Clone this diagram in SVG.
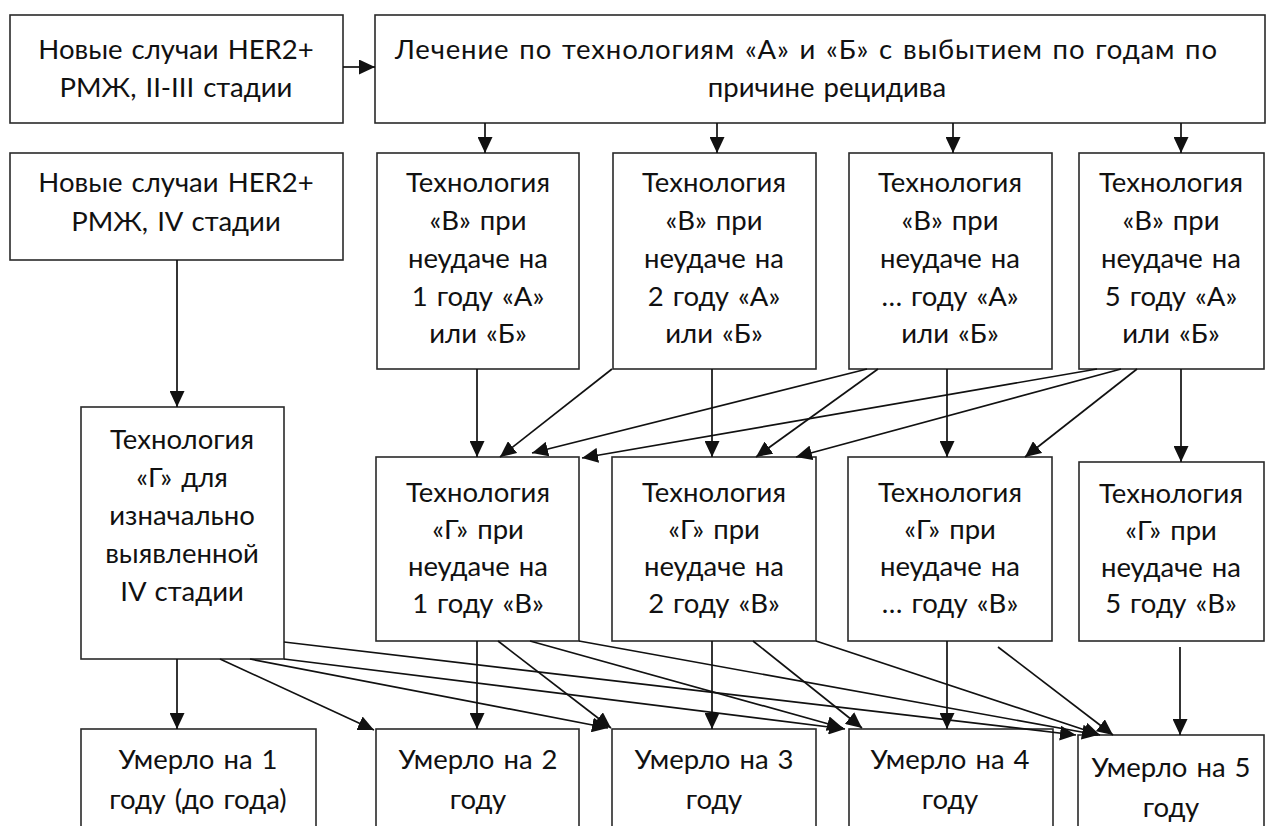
<svg xmlns="http://www.w3.org/2000/svg" width="1272" height="826" viewBox="0 0 1272 826">
<style>
.box{fill:#fff;stroke:#2a2a2a;stroke-width:1.6}
.t{font-family:Lato,"Open Sans",sans-serif;font-size:27.5px;fill:#111;text-anchor:middle;word-spacing:2px}
.c{stroke:#111;stroke-width:1.7;fill:none;marker-end:url(#ah)}
</style>
<defs>
<marker id="ah" markerUnits="userSpaceOnUse" markerWidth="17" markerHeight="15" refX="16" refY="7.5" orient="auto">
<path d="M0,0 L16,7.5 L0,15 z" fill="#111"/>
</marker>
</defs>
<rect width="1272" height="826" fill="#fff"/>
<g id="nA1"><rect class="box" x="10" y="15" width="333" height="108"/>
<text class="t" x="176" y="59">Новые случаи HER2+</text><text class="t" x="176" y="97">РМЖ, II-III стадии</text></g>
<g id="nTop"><rect class="box" x="375" y="15" width="890" height="108"/>
<text class="t" x="806" y="59" textLength="822" lengthAdjust="spacing">Лечение по технологиям «А» и «Б» с выбытием по годам по</text><text class="t" x="827" y="97">причине рецидива</text></g>
<g id="nA2"><rect class="box" x="10" y="153" width="333" height="107"/>
<text class="t" x="176" y="192">Новые случаи HER2+</text><text class="t" x="176" y="231">РМЖ, IV стадии</text></g>
<g id="nB1"><rect class="box" x="377" y="153" width="202" height="216"/>
<text class="t" x="478" y="192">Технология</text><text class="t" x="478" y="230">«В» при</text><text class="t" x="478" y="268">неудаче на</text><text class="t" x="478" y="306">1 году «А»</text><text class="t" x="478" y="343">или «Б»</text></g>
<g id="nB2"><rect class="box" x="613" y="153" width="203" height="216"/>
<text class="t" x="714" y="192">Технология</text><text class="t" x="714" y="230">«В» при</text><text class="t" x="714" y="268">неудаче на</text><text class="t" x="714" y="306">2 году «А»</text><text class="t" x="714" y="343">или «Б»</text></g>
<g id="nB3"><rect class="box" x="849" y="153" width="203" height="216"/>
<text class="t" x="950" y="192">Технология</text><text class="t" x="950" y="230">«В» при</text><text class="t" x="950" y="268">неудаче на</text><text class="t" x="950" y="306">… году «А»</text><text class="t" x="950" y="343">или «Б»</text></g>
<g id="nB4"><rect class="box" x="1079" y="153" width="185" height="216"/>
<text class="t" x="1171" y="192">Технология</text><text class="t" x="1171" y="230">«В» при</text><text class="t" x="1171" y="268">неудаче на</text><text class="t" x="1171" y="306">5 году «А»</text><text class="t" x="1171" y="343">или «Б»</text></g>
<g id="nG0"><rect class="box" x="81" y="407" width="203" height="252"/>
<text class="t" x="182" y="449">Технология</text><text class="t" x="182" y="487">«Г» для</text><text class="t" x="182" y="525">изначально</text><text class="t" x="182" y="563">выявленной</text><text class="t" x="182" y="601">IV стадии</text></g>
<g id="nG1"><rect class="box" x="376" y="457" width="203" height="184"/>
<text class="t" x="478" y="502">Технология</text><text class="t" x="478" y="539">«Г» при</text><text class="t" x="478" y="576">неудаче на</text><text class="t" x="478" y="613">1 году «В»</text></g>
<g id="nG2"><rect class="box" x="612" y="457" width="204" height="184"/>
<text class="t" x="714" y="502">Технология</text><text class="t" x="714" y="539">«Г» при</text><text class="t" x="714" y="576">неудаче на</text><text class="t" x="714" y="613">2 году «В»</text></g>
<g id="nG3"><rect class="box" x="848" y="457" width="204" height="184"/>
<text class="t" x="950" y="502">Технология</text><text class="t" x="950" y="539">«Г» при</text><text class="t" x="950" y="576">неудаче на</text><text class="t" x="950" y="613">… году «В»</text></g>
<g id="nG4"><rect class="box" x="1079" y="462" width="185" height="179"/>
<text class="t" x="1171" y="503">Технология</text><text class="t" x="1171" y="540">«Г» при</text><text class="t" x="1171" y="577">неудаче на</text><text class="t" x="1171" y="613">5 году «В»</text></g>
<g id="nD1"><rect class="box" x="81" y="729" width="235" height="110"/>
<text class="t" x="198" y="769">Умерло на 1</text><text class="t" x="198" y="809">году (до года)</text></g>
<g id="nD2"><rect class="box" x="376" y="729" width="203" height="110"/>
<text class="t" x="478" y="769">Умерло на 2</text><text class="t" x="478" y="809">году</text></g>
<g id="nD3"><rect class="box" x="612" y="729" width="204" height="110"/>
<text class="t" x="714" y="769">Умерло на 3</text><text class="t" x="714" y="809">году</text></g>
<g id="nD4"><rect class="box" x="849" y="729" width="204" height="110"/>
<text class="t" x="950" y="769">Умерло на 4</text><text class="t" x="950" y="809">году</text></g>
<g id="nD5"><rect class="box" x="1078" y="735" width="186" height="110"/>
<text class="t" x="1171" y="777">Умерло на 5</text><text class="t" x="1171" y="817">году</text></g>
<g id="connectors">
<line class="c" x1="343" y1="67" x2="375" y2="67"/>
<line class="c" x1="485" y1="123" x2="485" y2="153"/>
<line class="c" x1="717" y1="123" x2="717" y2="153"/>
<line class="c" x1="953" y1="123" x2="953" y2="153"/>
<line class="c" x1="1181" y1="123" x2="1181" y2="153"/>
<line class="c" x1="177" y1="260" x2="177" y2="407"/>
<line class="c" x1="477" y1="369" x2="477" y2="457"/>
<line class="c" x1="612" y1="369" x2="500" y2="457"/>
<line class="c" x1="712" y1="369" x2="712" y2="457"/>
<line class="c" x1="867" y1="369" x2="532" y2="453"/>
<line class="c" x1="878" y1="369" x2="756" y2="457"/>
<line class="c" x1="947" y1="369" x2="947" y2="457"/>
<line class="c" x1="1097" y1="369" x2="582" y2="458"/>
<line class="c" x1="1121" y1="369" x2="796" y2="457"/>
<line class="c" x1="1137" y1="369" x2="1025" y2="457"/>
<line class="c" x1="1181" y1="369" x2="1181" y2="462"/>
<line class="c" x1="177" y1="659" x2="177" y2="729"/>
<line class="c" x1="220" y1="659" x2="374" y2="730"/>
<line class="c" x1="250" y1="659" x2="608" y2="728"/>
<line class="c" x1="284" y1="659" x2="845" y2="729"/>
<line class="c" x1="284" y1="642" x2="1076" y2="735"/>
<line class="c" x1="477" y1="641" x2="477" y2="729"/>
<line class="c" x1="498" y1="641" x2="611" y2="728"/>
<line class="c" x1="530" y1="641" x2="843" y2="728"/>
<line class="c" x1="579" y1="641" x2="1098" y2="735"/>
<line class="c" x1="712" y1="641" x2="712" y2="729"/>
<line class="c" x1="753" y1="641" x2="862" y2="728"/>
<line class="c" x1="816" y1="641" x2="1100" y2="735"/>
<line class="c" x1="947" y1="641" x2="947" y2="729"/>
<line class="c" x1="998" y1="647" x2="1113" y2="735"/>
<line class="c" x1="1180" y1="647" x2="1180" y2="735"/>
</g>
</svg>
